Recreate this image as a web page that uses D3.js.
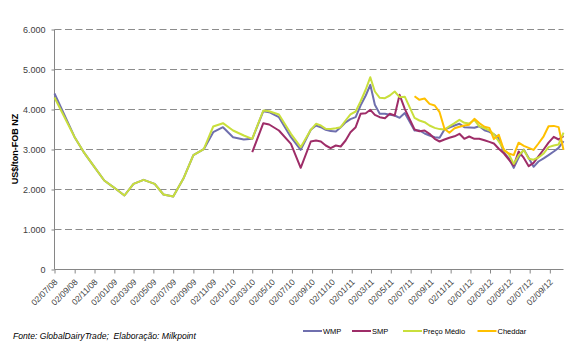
<!DOCTYPE html>
<html>
<head>
<meta charset="utf-8">
<script src="https://cdn.jsdelivr.net/npm/d3@7"></script>
<style>
  body { margin: 0; background: #fff; }
  svg { display: block; font-family: "Liberation Sans", Arial, sans-serif; }
  .axis path, .axis line { stroke: #868686; }
  .axis text { fill: #404040; }
</style>
</head>
<body>
<div class="svg-container"></div>
<script>
// auction dates (x values)
const dates = [
  "2008-07-02","2008-09-02","2008-10-02","2008-11-02","2008-12-02","2009-01-02",
  "2009-02-02","2009-03-02","2009-04-02","2009-05-06","2009-06-02","2009-07-02",
  "2009-08-02","2009-09-02","2009-10-04","2009-11-02","2009-12-02","2010-01-02",
  "2010-02-04","2010-03-02","2010-04-05","2010-04-23","2010-05-23","2010-06-29",
  "2010-07-29","2010-08-29","2010-09-14","2010-09-29","2010-10-14","2010-10-29",
  "2010-11-14","2010-11-29","2010-12-14","2010-12-29","2011-01-14","2011-01-29",
  "2011-02-14","2011-02-28","2011-03-14","2011-03-29","2011-04-14","2011-04-29",
  "2011-05-14","2011-05-29","2011-06-14","2011-07-14","2011-07-29","2011-08-14",
  "2011-08-29","2011-09-14","2011-09-29","2011-10-14","2011-10-29","2011-11-14",
  "2011-11-29","2011-12-14","2011-12-29","2012-01-14","2012-01-29","2012-02-14",
  "2012-02-29","2012-03-14","2012-03-29","2012-04-14","2012-04-29","2012-05-14",
  "2012-05-29","2012-06-14","2012-06-29","2012-07-14","2012-07-29","2012-08-14",
  "2012-08-29","2012-09-14","2012-09-29","2012-10-14"
];

const wmp = [
  4400,3308,2908,2558,2225,2042,1850,2142,2242,2142,1875,1825,
  2267,2858,3008,3433,3558,3308,3250,3267,3958,3933,3808,3308,
  2992,3492,3600,3558,3492,3460,3450,3558,3680,3760,3808,4100,
  4350,4617,4117,3892,3892,3870,3850,3792,3910,3475,3475,3400,
  3350,3308,3292,3500,3550,3600,3642,3558,3550,3542,3583,3480,
  3440,3380,3280,2920,2780,2540,2800,3000,2790,2567,2700,2780,
  2860,2950,3040,3210
];

const smp = [
  null,null,null,null,null,null,null,null,null,null,null,null,
  null,null,null,null,null,null,null,2933,3658,3625,3475,3142,
  2542,3200,3225,3200,3100,3033,3100,3075,3225,3433,3558,3892,
  3908,3992,3867,3808,3783,3892,3850,4367,4017,3500,3458,3475,
  3392,3267,3200,3250,3292,3330,3392,3267,3325,3267,3267,3230,
  3190,3150,3020,2900,2750,2600,2950,2790,2583,2667,2830,3000,
  3170,3317,3250,3333
];

const precoMedio = [
  4300,3308,2908,2558,2225,2042,1850,2142,2242,2142,1875,1825,
  2267,2858,3008,3575,3658,3475,3350,3267,3975,3958,3875,3392,
  3058,3492,3642,3600,3517,3510,3533,3558,3725,3880,3950,4200,
  4500,4808,4450,4292,4283,4350,4450,4308,4320,3790,3725,3683,
  3600,3540,3510,3500,3580,3660,3742,3667,3650,3740,3580,3530,
  3480,3380,3200,3000,2880,2640,2850,2990,2770,2745,2800,2900,
  3060,3100,3125,3420
];

const cheddar = [
  null,null,null,null,null,null,null,null,null,null,null,null,
  null,null,null,null,null,null,null,null,null,null,null,null,
  null,null,null,null,null,null,null,null,null,null,null,null,
  null,null,null,null,null,null,null,null,null,4330,4242,4275,
  4140,4100,3933,3520,3420,3530,3570,3600,3620,3767,3660,3570,
  3540,3260,3370,2980,2900,2860,3170,3090,3040,2990,3150,3330,
  3580,3590,3560,2990
];

const xTickLabels = [
  "02/07/08","02/09/08","02/11/08","02/01/09","02/03/09","02/05/09","02/07/09",
  "02/09/09","02/11/09","02/01/10","02/03/10","02/05/10","02/07/10","02/09/10",
  "02/11/10","02/01/11","02/03/11","02/05/11","02/07/11","02/09/11","02/11/11",
  "02/01/12","02/03/12","02/05/12","02/07/12","02/09/12"
];
const yTicks = [0, 1000, 2000, 3000, 4000, 5000, 6000];

const seriesNames = ["WMP", "SMP", "Preço Médio", "Cheddar"];
const seriesColors = ["#6f6fae", "#9e2d68", "#c9df3c", "#ffc000"];

document.addEventListener("DOMContentLoaded", () => {
  let width = 570,
    height = 363;
  let left = 54.5, right = 563.5, top = 29.5, bottom = 269.5;

  const parseDate = d3.timeParse("%Y-%m-%d");
  const parseTick = d3.timeParse("%d/%m/%y");
  const ptBR = d3.formatLocale({ decimal: ",", thousands: ".", grouping: [3], currency: ["R$", ""] });

  let svg = d3.select(".svg-container").append("svg")
    .attr("width", width)
    .attr("height", height);

  const xDates = dates.map(parseDate);

  const xScale = d3.scaleTime()
    .domain([xDates[0], xDates[xDates.length - 1]])
    .range([left, right]);

  const yScale = d3.scaleLinear()
    .domain([0, 6000])
    .range([bottom, top]);

  // dashed gridlines
  svg.append("g")
    .selectAll("line")
    .data(yTicks.filter(d => d > 0))
    .enter()
    .append("line")
    .attr("x1", left)
    .attr("x2", right)
    .attr("y1", d => yScale(d))
    .attr("y2", d => yScale(d))
    .attr("stroke", "#8c8c8c")
    .attr("stroke-width", 1)
    .attr("stroke-dasharray", "7,3.5");

  // y axis
  const yAxis = d3.axisLeft(yScale)
    .tickValues(yTicks)
    .tickSize(3)
    .tickPadding(6)
    .tickFormat(ptBR.format(",d"));

  svg.append("g")
    .attr("class", "axis")
    .attr("transform", "translate(" + left + ",0)")
    .call(yAxis)
    .call(g => g.select(".domain").attr("d", "M0," + top + "V" + bottom))
    .selectAll("text")
    .style("font-size", "9px");

  // x axis
  const xAxis = d3.axisBottom(xScale)
    .tickValues(xTickLabels.map(parseTick))
    .tickSize(4)
    .tickFormat(d3.timeFormat("%d/%m/%y"));

  svg.append("g")
    .attr("class", "axis")
    .attr("transform", "translate(0," + bottom + ")")
    .call(xAxis)
    .call(g => g.select(".domain").attr("d", "M" + left + ",0H" + right))
    .selectAll("text")
    .style("font-size", "8.5px")
    .style("text-anchor", "end")
    .attr("x", 0)
    .attr("y", 0)
    .attr("dy", "0.35em")
    .attr("transform", "translate(1,11) rotate(-45)");

  // lines
  const series = seriesNames.map((name, i) => ({
    name: name,
    color: seriesColors[i],
    values: [wmp, smp, precoMedio, cheddar][i].map((v, j) => ({ date: xDates[j], v: v }))
  }));

  const line = d3.line()
    .defined(d => d.v != null)
    .x(d => xScale(d.date))
    .y(d => yScale(d.v));

  svg.append("g")
    .selectAll("path")
    .data(series)
    .enter()
    .append("path")
    .attr("d", s => line(s.values))
    .attr("fill", "none")
    .attr("stroke", s => s.color)
    .attr("stroke-width", 2)
    .attr("stroke-linejoin", "round");

  // y title
  svg.append("text")
    .text("US$/ton-FOB NZ")
    .attr("transform", "translate(18,149) rotate(-90)")
    .attr("text-anchor", "middle")
    .style("font-size", "9px")
    .style("font-weight", "bold")
    .attr("fill", "#000");

  // source
  svg.append("text")
    .text("Fonte: GlobalDairyTrade;\u00a0 Elaboração: Milkpoint")
    .attr("x", 13)
    .attr("y", 339)
    .style("font-size", "8.6px")
    .style("font-style", "italic")
    .attr("fill", "#000");

  // legend
  const legendX = [303, 352, 403, 477.5];
  let legend = svg.append("g")
    .selectAll("g")
    .data(series)
    .enter()
    .append("g")
    .attr("transform", (d, i) => "translate(" + legendX[i] + ",331)");

  legend.append("line")
    .attr("x1", 0)
    .attr("x2", 19)
    .attr("stroke", d => d.color)
    .attr("stroke-width", 2);

  legend.append("text")
    .text(d => d.name)
    .attr("x", 20)
    .attr("y", 2.5)
    .style("font-size", "7.5px")
    .attr("fill", "#000");
});
</script>
</body>
</html>
